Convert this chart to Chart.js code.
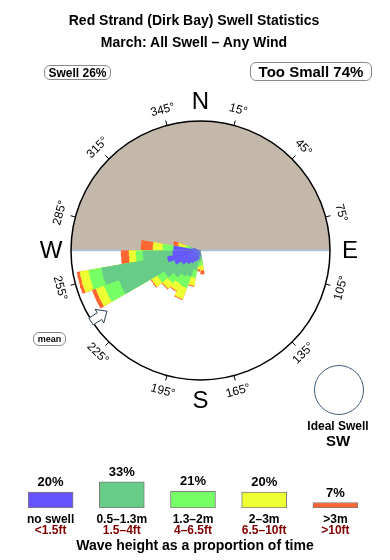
<!DOCTYPE html>
<html lang="en">
<head>
<meta charset="UTF-8">
<title>Red Strand (Dirk Bay) Swell Statistics</title>
<script src="https://cdn.jsdelivr.net/npm/chart.js"></script>
<style>
    body {
        margin: 0;
        background: #fff;
        font-family: "Liberation Sans", Arial, sans-serif;
    }
    #wrap {
        position: relative;
        width: 390px;
        height: 560px;
        overflow: hidden;
    }
    #rose { position: absolute; left: 0; top: 0; }
    #bars { position: absolute; left: 15px; top: 460px; }
    .lbl {
        position: absolute;
        white-space: nowrap;
        line-height: 1;
        transform: translate(-50%, -50%);
        color: #000;
    }
    .box {
        position: absolute;
        box-sizing: border-box;
        border: 1px solid #8a8a8a;
        border-radius: 6px;
        display: flex;
        align-items: center;
        justify-content: center;
        white-space: nowrap;
    }
    .title { font-size: 14px; font-weight: bold; }
    .ft { color: #800000; }
</style>
</head>
<body>
<div id="wrap">
    <canvas id="rose" width="390" height="560"></canvas>
    <canvas id="bars" width="356" height="48"></canvas>

    <div class="lbl title" style="left:194px; top:20px;">Red Strand (Dirk Bay) Swell Statistics</div>
    <div class="lbl title" style="left:194px; top:42px;">March: All Swell – Any Wind</div>

    <div class="box" id="swellBox" style="left:44px; top:65px; width:67px; height:15px; font-size:12px; font-weight:bold;"></div>
    <div class="box" id="smallBox" style="left:250px; top:62px; width:122px; height:19px; font-size:15px; font-weight:bold;"></div>
    <div class="box" style="left:33px; top:332px; width:33px; height:14px; font-size:9px; font-weight:bold;">mean</div>

    <div style="position:absolute; left:314px; top:365px; width:50px; height:50px; box-sizing:border-box; border:1px solid #3d5a78; border-radius:50%;"></div>
    <div class="lbl" style="left:338px; top:426px; font-size:12px; font-weight:bold;">Ideal Swell</div>
    <div class="lbl" style="left:338px; top:440px; font-size:15px; font-weight:bold;">SW</div>

    <div class="lbl" style="left:195px; top:545px; font-size:14px; font-weight:bold;">Wave height as a proportion of time</div>
</div>

<script>
    // swell direction bins (degrees, direction the swell comes from)
    const directions = [175, 185, 195, 205, 215, 225, 235, 245, 255, 265, 275, 285];

    // rose length per height band, per direction (rose units, rim = 130)
    const noSwell  = [5, 8, 10, 12, 15, 18, 22, 28, 34, 28, 27, 8];
    const small    = [5, 4, 10, 16, 15, 17, 20, 59, 67, 30, 1, 3];   // 0.5-1.3m
    const medium   = [5, 4, 8, 12, 9, 8, 8, 16, 13, 7, 10, 4];       // 1.3-2m
    const large    = [5, 3, 8, 12, 8, 7, 7, 9, 9, 7, 10, 8];         // 2-3m
    const huge     = [4, 2, 1, 1, 1, 1, 1, 4, 3, 8, 12, 5];          // >3m

    // legend
    const heightLabels = ['no swell', '0.5–1.3m', '1.3–2m', '2–3m', '>3m'];
    const feetLabels   = ['<1.5ft', '1.5–4ft', '4–6.5ft', '6.5–10ft', '>10ft'];
    const shareOfTime  = [20, 33, 21, 20, 7];
    const bandColors   = ['#6655ff', '#66cc88', '#77ff66', '#eeff33', '#ff6633'];

    // compass
    const degreeTicks  = [15, 45, 75, 105, 135, 165, 195, 225, 255, 285, 315, 345];
    const compassNames = ['N', 'E', 'S', 'W'];
    const compassDirs  = [0, 90, 180, 270];
    const meanDirection = 237;
    const swellShare = 26;
    const tooSmallShare = 74;

    const RIM = 130;          // value at the outer circle
    const HALF = 5.1;         // half width of a direction bin, degrees

    // where the rose sits on the page
    const CX = 200.5, CY = 250.5, RPX = 129.5, W = 390, H = 560;
    const k = RPX / RIM;

    document.getElementById('swellBox').textContent = 'Swell ' + swellShare + '%';
    document.getElementById('smallBox').textContent = 'Too Small ' + tooSmallShare + '%';

    const rad = d => d * Math.PI / 180;

    function wedge(dir, r) {
        const pts = [{x: 0, y: 0}];
        for (let s = 0; s <= 8; s++) {
            const a = rad(dir - HALF + s * 2 * HALF / 8);
            pts.push({x: r * Math.sin(a), y: r * Math.cos(a)});
        }
        pts.push({x: 0, y: 0});
        return pts;
    }

    // stacked wedges: outer (cumulative) drawn first, purple last
    const bands = [noSwell, small, medium, large, huge];
    const datasets = [];
    directions.forEach((dir, i) => {
        let total = 0;
        bands.forEach((band, b) => {
            total += band[i];
            datasets.push({
                data: wedge(dir, total),
                showLine: true,
                fill: 'shape',
                backgroundColor: bandColors[b],
                borderColor: 'transparent',
                borderWidth: 0,
                pointRadius: 0,
                tension: 0,
                order: b + 1
            });
        });
    });

    const roseDecor = {
        id: 'roseDecor',
        beforeDatasetsDraw(chart) {
            const {ctx, scales: {x, y}} = chart;
            const cx = x.getPixelForValue(0), cy = y.getPixelForValue(0);
            const r = x.getPixelForValue(RIM) - cx;
            ctx.save();
            // land (northern half)
            ctx.beginPath();
            ctx.moveTo(cx - r, cy);
            ctx.arc(cx, cy, r, Math.PI, 2 * Math.PI);
            ctx.closePath();
            ctx.fillStyle = '#c4b8ab';
            ctx.fill();
            // coastline
            ctx.beginPath();
            ctx.moveTo(cx - r, cy);
            ctx.lineTo(cx + r, cy);
            ctx.strokeStyle = '#a6c2dc';
            ctx.lineWidth = 1.5;
            ctx.stroke();
            ctx.restore();
        },
        afterDatasetsDraw(chart) {
            const {ctx, scales: {x, y}} = chart;
            const cx = x.getPixelForValue(0), cy = y.getPixelForValue(0);
            const r = x.getPixelForValue(RIM) - cx;
            const at = (b, d) => [cx + d * Math.sin(rad(b)), cy - d * Math.cos(rad(b))];
            ctx.save();

            // outer circle
            ctx.beginPath();
            ctx.arc(cx, cy, r, 0, 2 * Math.PI);
            ctx.strokeStyle = '#000';
            ctx.lineWidth = 1.5;
            ctx.stroke();

            // ticks and degree labels
            ctx.lineWidth = 1;
            ctx.font = '12px "Liberation Sans", Arial, sans-serif';
            ctx.fillStyle = '#000';
            ctx.textAlign = 'center';
            ctx.textBaseline = 'middle';
            degreeTicks.forEach(b => {
                const [x1, y1] = at(b, r);
                const [x2, y2] = at(b, r + 5);
                ctx.beginPath();
                ctx.moveTo(x1, y1);
                ctx.lineTo(x2, y2);
                ctx.stroke();
                const [tx, ty] = at(b, r + 16);
                let rot = b <= 90 ? b : (b < 270 ? b - 180 : b - 360);
                ctx.save();
                ctx.translate(tx, ty);
                ctx.rotate(rad(rot));
                ctx.fillText(b + '°', 0, 0);
                ctx.restore();
            });

            // N E S W
            ctx.font = '24px "Liberation Sans", Arial, sans-serif';
            compassNames.forEach((n, i) => {
                const [tx, ty] = at(compassDirs[i], r + 20);
                ctx.fillText(n, tx, ty + 1);
            });

            // mean direction arrow, pointing inward from the rim
            const ux = -Math.sin(rad(meanDirection)), uy = Math.cos(rad(meanDirection));
            const vx = -uy, vy = ux;
            const [bx, by] = at(meanDirection, r + 1);
            const shape = [[0, -4], [10, -4], [10, -8], [19, 0], [10, 8], [10, 4], [0, 4]];
            ctx.beginPath();
            shape.forEach(([u, v], i) => {
                const px = bx + u * ux + v * vx, py = by + u * uy + v * vy;
                if (i === 0) ctx.moveTo(px, py); else ctx.lineTo(px, py);
            });
            ctx.closePath();
            ctx.fillStyle = '#fff';
            ctx.fill();
            ctx.strokeStyle = '#2c3e50';
            ctx.lineWidth = 1;
            ctx.stroke();

            ctx.restore();
        }
    };

    new Chart(document.getElementById('rose'), {
        type: 'scatter',
        data: {datasets: datasets},
        options: {
            responsive: false,
            animation: false,
            events: [],
            layout: {padding: 0},
            plugins: {legend: {display: false}, tooltip: {enabled: false}},
            scales: {
                x: {type: 'linear', display: false, min: -CX / k, max: (W - CX) / k},
                y: {type: 'linear', display: false, min: -(H - CY) / k, max: CY / k}
            }
        },
        plugins: [roseDecor]
    });

    // percentage above each legend bar
    const pctLabels = {
        id: 'pctLabels',
        afterDatasetsDraw(chart) {
            const {ctx} = chart;
            ctx.save();
            ctx.font = 'bold 13px "Liberation Sans", Arial, sans-serif';
            ctx.fillStyle = '#000';
            ctx.textAlign = 'center';
            ctx.textBaseline = 'middle';
            chart.getDatasetMeta(0).data.forEach((bar, i) => {
                ctx.fillText(shareOfTime[i] + '%', bar.x, bar.y - 9.5);
            });
            ctx.restore();
        }
    };

    const barChart = new Chart(document.getElementById('bars'), {
        type: 'bar',
        data: {
            labels: heightLabels,
            datasets: [{
                data: shareOfTime,
                backgroundColor: bandColors,
                borderColor: '#7d7d7d',
                borderWidth: 1,
                borderSkipped: false,
                barThickness: 45
            }]
        },
        options: {
            responsive: false,
            animation: false,
            events: [],
            layout: {padding: 0},
            plugins: {legend: {display: false}, tooltip: {enabled: false}},
            scales: {
                x: {display: false},
                y: {display: false, min: 0, max: 48 / 0.79}
            }
        },
        plugins: [pctLabels]
    });

    // band names under the legend bars
    const wrap = document.getElementById('wrap');
    barChart.getDatasetMeta(0).data.forEach((bar, i) => {
        const cxBar = 15 + bar.x;
        const a = document.createElement('div');
        a.className = 'lbl';
        a.style.cssText = `left:${cxBar}px; top:519px; font-size:12px; font-weight:bold;`;
        a.textContent = heightLabels[i];
        wrap.appendChild(a);
        const b = document.createElement('div');
        b.className = 'lbl ft';
        b.style.cssText = `left:${cxBar}px; top:530px; font-size:12px; font-weight:bold;`;
        b.textContent = feetLabels[i];
        wrap.appendChild(b);
    });
</script>
</body>
</html>
